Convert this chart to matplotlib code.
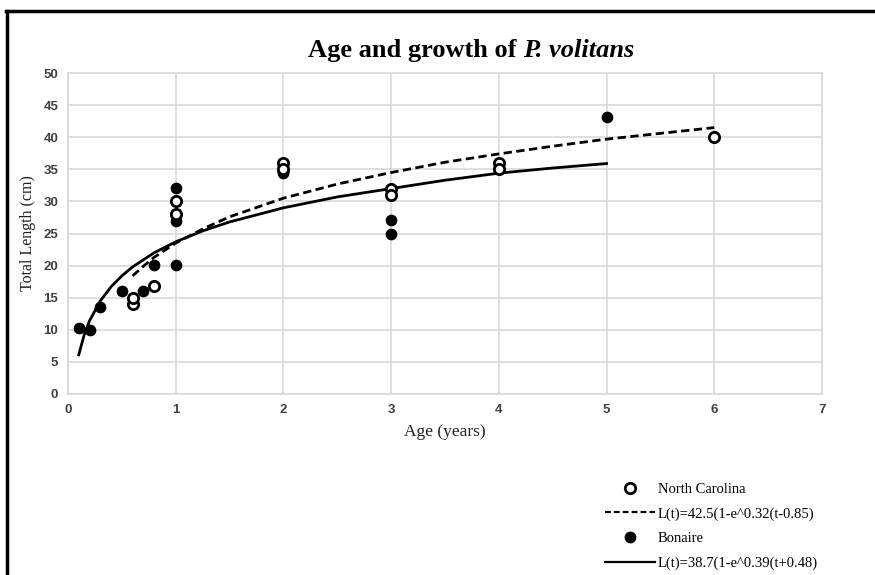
import matplotlib.pyplot as plt
from matplotlib.lines import Line2D

plt.rcParams['font.family'] = ['Liberation Serif', 'DejaVu Serif']

# North Carolina (open circles)
nc_age = [0.6, 0.6, 0.8, 1, 1, 2, 2, 3, 3, 4, 4, 6]
nc_len = [14.0, 15.0, 16.8, 28.0, 30.1, 36.0, 35.1, 32.0, 31.0, 36.0, 35.1, 40.0]

# Bonaire (filled circles)
bon_age = [0.1, 0.2, 0.3, 0.5, 0.7, 0.8, 1, 1, 1, 2, 2, 3, 3, 5]
bon_len = [10.3, 10.0, 13.5, 16.0, 16.0, 20.1, 20.1, 26.9, 32.1, 34.4, 34.8, 27.1, 25.0, 43.1]

# growth curves
nc_curve_t = [0.6, 0.7, 0.8, 0.9, 1, 1.25, 1.5, 2, 2.5, 3, 3.5, 4, 4.5, 5, 5.5, 6]
nc_curve_L = [18.4, 19.9, 21.3, 22.4, 23.5, 25.7, 27.6, 30.5, 32.7, 34.5, 36.1, 37.4, 38.6, 39.7, 40.6, 41.5]
bon_curve_t = [0.1, 0.15, 0.2, 0.3, 0.4, 0.5, 0.6, 0.8, 1, 1.25, 1.5, 2, 2.5, 3, 3.5, 4, 4.5, 5]
bon_curve_L = [6.1, 9.2, 11.4, 14.5, 16.7, 18.4, 19.8, 22.0, 23.7, 25.4, 26.8, 29.0, 30.7, 32.0, 33.3, 34.4, 35.2, 35.9]

x_ticks = [0, 1, 2, 3, 4, 5, 6, 7]
y_ticks = [0, 5, 10, 15, 20, 25, 30, 35, 40, 45, 50]

nc_label = "L(t)=42.5(1-e^0.32(t-0.85)"
bon_label = "L(t)=38.7(1-e^0.39(t+0.48)"

fig = plt.figure(figsize=(8.75, 5.75), dpi=100)
ax = fig.add_axes([0.0777, 0.3148, 0.8617, 0.5582])

grid_col = '#d9d9d9'
ax.set_xlim(0, 7)
ax.set_ylim(0, 50)
ax.set_xticks(x_ticks)
ax.set_yticks(y_ticks)
ax.grid(True, color=grid_col, linewidth=1.2)
ax.set_axisbelow(True)
for s in ax.spines.values():
    s.set_color(grid_col)
    s.set_linewidth(1.2)
ax.tick_params(length=0, pad=7, labelsize=9.5, labelcolor='#404040')
for lab in ax.get_xticklabels() + ax.get_yticklabels():
    lab.set_fontfamily(['Liberation Sans Narrow', 'Liberation Sans', 'DejaVu Sans'])
    lab.set_fontweight('bold')

ax.plot(nc_curve_t, nc_curve_L, color='black', linestyle=(0, (3, 1.6)), linewidth=2)
ax.plot(bon_curve_t, bon_curve_L, color='black', linestyle='-', linewidth=2)

ax.scatter(bon_age, bon_len, s=55, color='black', zorder=3)
ax.scatter(nc_age, nc_len, s=55, facecolor='white', edgecolor='black', linewidth=2, zorder=4)

ax.set_xlabel("Age (years)", fontsize=12.5, labelpad=6, color='#222222')
ax.set_ylabel("Total Length (cm)", fontsize=11.5, labelpad=5, color='#222222')

fig.text(0.598, 0.912, "Age and growth of ", fontsize=19, fontweight='bold', ha='right', va='center')
fig.text(0.598, 0.912, "P. volitans", fontsize=19, fontweight='bold', style='italic', ha='left', va='center')

handles = [
    Line2D([], [], linestyle='none', marker='o', markersize=7.5, markerfacecolor='white',
           markeredgecolor='black', markeredgewidth=2),
    Line2D([], [], color='black', linestyle=(0, (2.6, 1.4)), linewidth=1.6),
    Line2D([], [], linestyle='none', marker='o', markersize=7.5, color='black'),
    Line2D([], [], color='black', linestyle='-', linewidth=1.6),
]
labels = ["North Carolina", nc_label, "Bonaire", bon_label]
fig.legend(handles, labels, loc='upper left', bbox_to_anchor=(0.685, 0.171), frameon=False,
           fontsize=10.5, handlelength=3.4, handletextpad=0.2, labelspacing=0.78,
           borderaxespad=0)

# outer frame (top and left edges)
fig.add_artist(Line2D([0.007, 1.0], [0.981, 0.981], color='black', linewidth=2.5))
fig.add_artist(Line2D([0.008, 0.008], [0.0, 0.981], color='black', linewidth=2.5))

fig.savefig("out.png", dpi=100)
